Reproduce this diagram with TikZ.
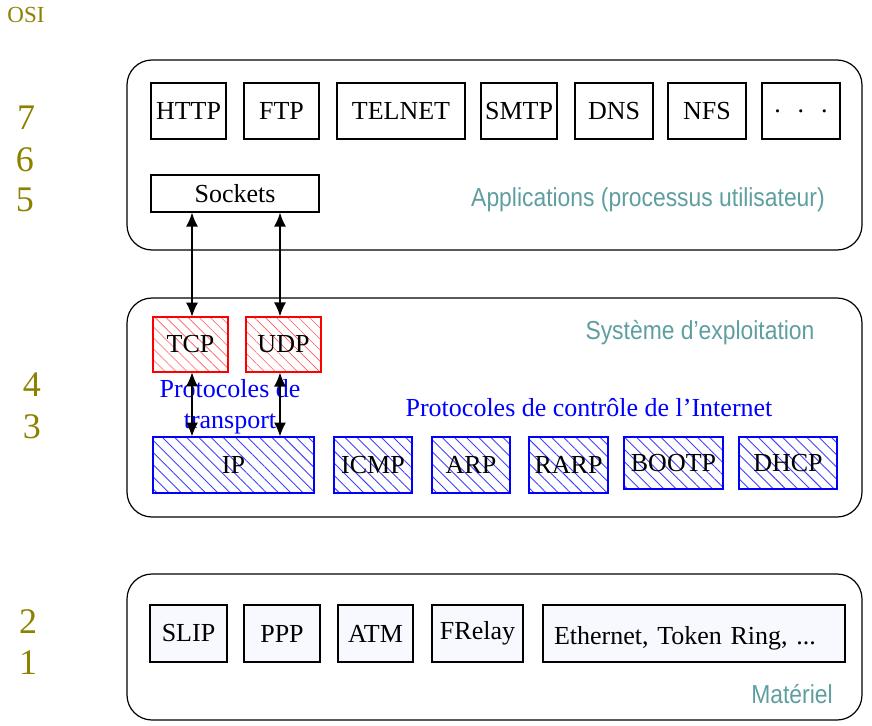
\documentclass[tikz,border=0pt]{standalone}
\usepackage{fontspec}
\usepackage{graphicx}
\setmainfont{Liberation Serif}
\newfontfamily\sansf{Liberation Sans}
\usetikzlibrary{arrows.meta,patterns.meta}
\definecolor{osi}{RGB}{140,130,0}
\definecolor{lab}{RGB}{95,158,160}
\definecolor{hw}{RGB}{248,248,255}
\tikzset{
  layer/.style={draw, line width=1.2pt, rounded corners=25pt, inner sep=0pt},
  pbox/.style={draw, line width=1.3pt, inner sep=0pt, font=\fontsize{26}{30}\selectfont},
  appbox/.style={pbox, minimum height=56pt},
  redbox/.style={pbox, draw=red, line width=1.2pt, minimum height=55pt, minimum width=75pt,
    pattern={Lines[angle=-45,distance=7.8pt,line width=0.6pt]}, pattern color=red!65},
  bluebox/.style={pbox, draw=blue, line width=1.6pt, minimum height=56pt,
    pattern={Lines[angle=-45,distance=8.6pt,line width=0.9pt]}, pattern color=blue!75},
  hwbox/.style={pbox, fill=hw, minimum height=57pt},
  osinum/.style={text=osi, inner sep=0pt, font=\fontsize{36}{40}\selectfont},
  lablbl/.style={text=lab, inner sep=0pt, font=\sansf\fontsize{26}{30}\selectfont},
  bluelbl/.style={text=blue, inner sep=0pt, font=\fontsize{26}{31}\selectfont},
  dbl/.style={{Latex[length=14pt,width=12pt]}-{Latex[length=14pt,width=12pt]}, line width=1.4pt},
}
\begin{document}
\begin{tikzpicture}[x=1pt,y=-1pt]
\useasboundingbox (0,0) rectangle (872,725);

% OSI labels
\node[osinum, font=\fontsize{23}{26}\selectfont] (osi) at (26,15) {OSI};
\node[osinum] (n7) at (26,118) {7};
\node[osinum] (n6) at (25,160) {6};
\node[osinum] (n5) at (25,200) {5};
\node[osinum] (n4) at (32,385) {4};
\node[osinum] (n3) at (32,427) {3};
\node[osinum] (n2) at (28,622) {2};
\node[osinum] (n1) at (28,663) {1};

% layers
\node[layer, minimum width=735pt, minimum height=190pt] (lapp) at (494.5,155) {};
\node[layer, minimum width=735pt, minimum height=219pt] (los) at (494.5,407.5) {};
\node[layer, minimum width=735pt, minimum height=146pt] (lhw) at (494.5,647) {};

% applications
\node[appbox, minimum width=75pt] (http) at (188.5,111) {HTTP};
\node[appbox, minimum width=75pt] (ftp) at (281.5,111) {FTP};
\node[appbox, minimum width=128pt] (telnet) at (401,111) {TELNET};
\node[appbox, minimum width=76pt] (smtp) at (519,111) {SMTP};
\node[appbox, minimum width=78pt] (dns) at (614,111) {DNS};
\node[appbox, minimum width=78pt] (nfs) at (707,111) {NFS};
\node[appbox, minimum width=78pt] (etc) at (801,111) {.\hspace{17pt}.\hspace{17pt}.};
\node[pbox, minimum width=168pt, minimum height=37pt] (sockets) at (235,193.5) {Sockets};
\node[lablbl] (applbl) at (648,200) {\scalebox{0.88}[1]{Applications (processus utilisateur)}};

% OS
\node[lablbl] (oslbl) at (700,333) {\scalebox{0.88}[1]{Système d’exploitation}};
\node[redbox] (tcp) at (190.5,344.5) {TCP};
\node[redbox] (udp) at (283.5,344.5) {UDP};
\node[bluelbl, align=center] (translbl) at (230,407) {Protocoles de\\transport};
\node[bluelbl] (ctrllbl) at (589,408) {Protocoles de contrôle de l’Internet};
\node[bluebox, minimum width=161pt] (ip) at (233.5,465) {IP};
\node[bluebox, minimum width=78pt] (icmp) at (373,465) {ICMP};
\node[bluebox, minimum width=78pt] (arp) at (471,465) {ARP};
\node[bluebox, minimum width=79pt] (rarp) at (568.5,465) {RARP};
\node[bluebox, minimum width=99pt, minimum height=52pt] (bootp) at (673.5,463) {BOOTP};
\node[bluebox, minimum width=98pt, minimum height=52pt] (dhcp) at (788,463) {DHCP};

% arrows
\coordinate (lx) at (192,0);
\coordinate (rx) at (280,0);
\draw[dbl] (sockets.south -| lx) -- (tcp.north -| lx);
\draw[dbl] (sockets.south -| rx) -- (udp.north -| rx);
\draw[dbl] (tcp.south -| lx) -- (ip.north -| lx);
\draw[dbl] (udp.south -| rx) -- (ip.north -| rx);

% hardware
\node[hwbox, minimum width=77pt] (slip) at (188.5,633.5) {SLIP};
\node[hwbox, minimum width=76pt] (ppp) at (282,633.5) {PPP};
\node[hwbox, minimum width=75pt] (atm) at (375.5,633.5) {ATM};
\node[hwbox, minimum width=91pt] (frelay) at (477.5,633.5) {FRelay};
\node[hwbox, text width=280pt, inner xsep=11pt, align=left, text height=23pt, text depth=1pt] (eth) at (694,633.5) {Ethernet, Token Ring, ...};
\node[lablbl] (hwlbl) at (792,694) {\scalebox{0.88}[1]{Matériel}};
\end{tikzpicture}
\end{document}
